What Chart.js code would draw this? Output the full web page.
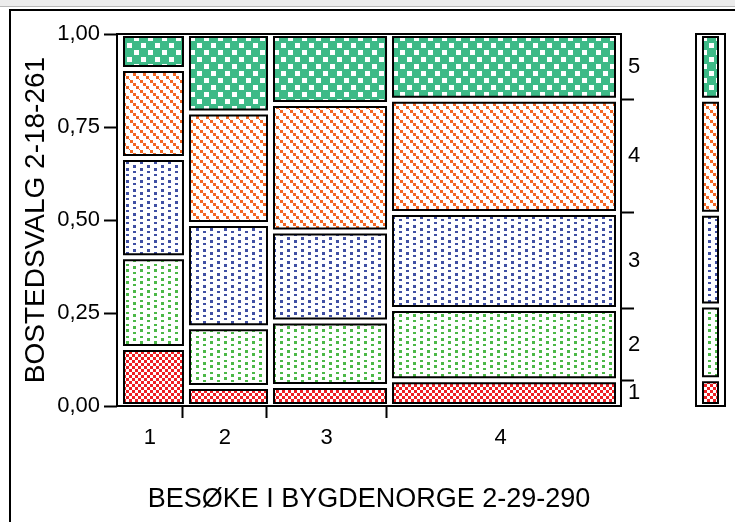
<!DOCTYPE html>
<html>
<head>
<meta charset="utf-8">
<script src="https://cdn.jsdelivr.net/npm/chart.js@4.4.1/dist/chart.umd.min.js"></script>
<style>
  html, body { margin: 0; padding: 0; background: #fff; }
  #page { position: relative; width: 735px; height: 522px; overflow: hidden; }
  #topbar { position: absolute; left: 0; top: 0; width: 735px; height: 6px; background: #ececec; border-bottom: 1px solid #b8b8b8; }
  #panel { position: absolute; left: 9px; top: 9px; width: 740px; height: 520px; border-left: 2px solid #000; border-top: 2px solid #000; }
  #main { position: absolute; left: 0; top: 0; }
  #margin { position: absolute; left: 680px; top: 0; }
</style>
</head>
<body>
<div id="page">
  <div id="topbar"></div>
  <div id="panel"></div>
  <canvas id="main" width="735" height="522"></canvas>
  <canvas id="margin" width="55" height="522"></canvas>
</div>
<script>
const columnLabels = ['1', '2', '3', '4'];
const columnShares = [0.1325, 0.1687, 0.2390, 0.4598];   // width of each column
const levelLabels = ['1', '2', '3', '4', '5'];
// share of each level (1..5, bottom to top) inside a column
const col1Shares = [0.156, 0.244, 0.267, 0.239, 0.094];
const col2Shares = [0.051, 0.161, 0.277, 0.300, 0.211];
const col3Shares = [0.054, 0.173, 0.242, 0.343, 0.188];
const col4Shares = [0.069, 0.192, 0.258, 0.304, 0.177];
const marginShares = [0.072, 0.198, 0.247, 0.306, 0.177];
const yTicks = [0, 0.25, 0.5, 0.75, 1];
const xTitle = 'BESØKE I BYGDENORGE 2-29-290';
const yTitle = 'BOSTEDSVALG 2-18-261';

// --- layout / style ---
const X_MAX = 504 / 498;      // frame runs a little past the last column
const CELL_PAD_L = 7, CELL_PAD_R = 0, CELL_PAD_Y = 3, MARGIN_PAD_X = 7;
const FONT = '"Liberation Sans", Arial, sans-serif';
Chart.defaults.font.family = FONT;
Chart.defaults.color = '#000';

const colShares = [col1Shares, col2Shares, col3Shares, col4Shares];

const cumulate = arr => arr.reduce((acc, v) => { acc.push(acc[acc.length - 1] + v); return acc; }, [0]);
const near = (a, b) => Math.abs(a - b) < 1e-9;

const xCum = cumulate(columnShares);
const xBounds = xCum.slice(1, -1);
const xCenters = columnShares.map((s, i) => xCum[i] + s / 2);

const lastCum = cumulate(col4Shares);
const rBounds = lastCum.slice(1, -1);
const rCenters = col4Shares.map((s, i) => lastCum[i] + s / 2);

// fill patterns, one per level
function makePattern(ctx, w, h, bg, fg, rects) {
    const c = document.createElement('canvas');
    c.width = w; c.height = h;
    const g = c.getContext('2d');
    g.fillStyle = bg; g.fillRect(0, 0, w, h);
    g.fillStyle = fg;
    rects.forEach(r => g.fillRect(r[0], r[1], r[2], r[3]));
    return ctx.createPattern(c, 'repeat');
}

function makePatterns(ctx) {
    return [
        makePattern(ctx, 6, 6, '#fff', '#ee2024', [[0, 0, 3, 3], [3, 3, 3, 3]]),
        makePattern(ctx, 14, 12, '#fff', '#4cb847', [[0, 0, 3, 2], [0, 5, 3, 3], [7, 2, 3, 3], [7, 8, 3, 2]]),
        makePattern(ctx, 14, 12, '#fff', '#3f4fa3', [[0, 0, 3, 3], [0, 6, 3, 2], [7, 3, 3, 2], [7, 9, 3, 3]]),
        makePattern(ctx, 10, 10, '#fff', '#f26522', [[0, 0, 3, 3], [3, 3, 3, 3], [6, 6, 3, 3], [9, 9, 1, 1]]),
        makePattern(ctx, 14, 14, '#3dba87', '#fff', [[1, 1, 5, 5], [8, 8, 5, 5]])
    ];
}

function rectPoints(L, R, B, T) {
    return [{x: L, y: B}, {x: L, y: T}, {x: R, y: T}, {x: R, y: B}, {x: L, y: B}];
}

function cellDatasets(L, R, B, T, fillStyle) {
    return [
        {data: [{x: L, y: T}, {x: R, y: T}], fill: {value: B}, backgroundColor: fillStyle,
         borderWidth: 0, pointRadius: 0, order: 2},
        {data: rectPoints(L, R, B, T), fill: false, borderColor: '#000', borderWidth: 2,
         borderCapStyle: 'square', pointRadius: 0, order: 1}
    ];
}

function frameDataset(xMax) {
    return {data: rectPoints(0, xMax, 0, 1), fill: false, borderColor: '#000', borderWidth: 2,
            borderCapStyle: 'square', pointRadius: 0, clip: false, order: 0};
}

function buildMain(chart) {
    const xs = chart.scales.x, ys = chart.scales.y;
    const ux = (xs.max - xs.min) / xs.width, uy = (ys.max - ys.min) / ys.height;
    const pats = makePatterns(chart.ctx);
    const sets = [];
    colShares.forEach((shares, c) => {
        const cum = cumulate(shares);
        shares.forEach((s, k) => {
            sets.push(...cellDatasets(xCum[c] + CELL_PAD_L * ux, xCum[c + 1] - CELL_PAD_R * ux,
                cum[k] + CELL_PAD_Y * uy, cum[k + 1] - CELL_PAD_Y * uy, pats[k]));
        });
    });
    sets.push(frameDataset(X_MAX));
    return sets;
}

function buildMargin(chart) {
    const xs = chart.scales.x, ys = chart.scales.y;
    const ux = (xs.max - xs.min) / xs.width, uy = (ys.max - ys.min) / ys.height;
    const pats = makePatterns(chart.ctx);
    const cum = cumulate(marginShares);
    const sets = [];
    marginShares.forEach((s, k) => {
        sets.push(...cellDatasets(MARGIN_PAD_X * ux, 1 - MARGIN_PAD_X * ux,
            cum[k] + CELL_PAD_Y * uy, cum[k + 1] - CELL_PAD_Y * uy, pats[k]));
    });
    sets.push(frameDataset(1));
    return sets;
}

const markColor = bounds => ctx => (ctx.tick && bounds.some(b => near(b, ctx.tick.value))) ? '#000' : 'rgba(0,0,0,0)';

const mainChart = new Chart(document.getElementById('main'), {
    type: 'line',
    data: {datasets: []},
    options: {
        responsive: false,
        animation: false,
        devicePixelRatio: 1,
        layout: {padding: {top: 34, left: 0, right: 0, bottom: 0}},
        plugins: {legend: {display: false}, tooltip: {enabled: false}},
        scales: {
            x: {
                type: 'linear', min: 0, max: X_MAX,
                afterBuildTicks: s => { s.ticks = [...xBounds, ...xCenters].sort((a, b) => a - b).map(v => ({value: v})); },
                afterFit: s => { s.height = 116; },
                border: {display: false},
                grid: {drawOnChartArea: false, tickLength: 12, tickWidth: 2, tickColor: markColor(xBounds)},
                ticks: {
                    autoSkip: false, maxRotation: 0, minRotation: 0, padding: 7,
                    font: {size: 22},
                    callback: v => { const i = xCenters.findIndex(c => near(c, v)); return i >= 0 ? columnLabels[i] : ''; }
                },
                title: {display: true, text: xTitle, font: {size: 27}, padding: {top: 0, bottom: 6}}
            },
            y: {
                type: 'linear', min: 0, max: 1,
                afterBuildTicks: s => { s.ticks = yTicks.map(v => ({value: v})); },
                afterFit: s => { s.width = 117; },
                border: {display: false},
                grid: {drawOnChartArea: false, tickLength: 13, tickWidth: 2, tickColor: '#000'},
                ticks: {padding: 4, font: {size: 22}, callback: v => v.toFixed(2).replace('.', ',')},
                title: {display: true, text: yTitle, font: {size: 28}, padding: {top: 19, bottom: 0}}
            },
            y2: {
                type: 'linear', position: 'right', min: 0, max: 1,
                afterBuildTicks: s => { s.ticks = [...rBounds, ...rCenters].sort((a, b) => a - b).map(v => ({value: v})); },
                afterFit: s => { s.width = 114; },
                border: {display: false},
                grid: {drawOnChartArea: false, tickLength: 13, tickWidth: 2, tickColor: markColor(rBounds)},
                ticks: {
                    autoSkip: false, padding: -6, font: {size: 22},
                    callback: v => { const i = rCenters.findIndex(c => near(c, v)); return i >= 0 ? levelLabels[i] : ''; }
                }
            }
        }
    }
});
mainChart.data.datasets = buildMain(mainChart);
mainChart.update('none');

const marginChart = new Chart(document.getElementById('margin'), {
    type: 'line',
    data: {datasets: []},
    options: {
        responsive: false,
        animation: false,
        devicePixelRatio: 1,
        layout: {padding: {top: 34, left: 16, right: 10, bottom: 116}},
        plugins: {legend: {display: false}, tooltip: {enabled: false}},
        scales: {
            x: {type: 'linear', min: 0, max: 1, display: false},
            y: {type: 'linear', min: 0, max: 1, display: false}
        }
    }
});
marginChart.data.datasets = buildMargin(marginChart);
marginChart.update('none');
</script>
</body>
</html>
